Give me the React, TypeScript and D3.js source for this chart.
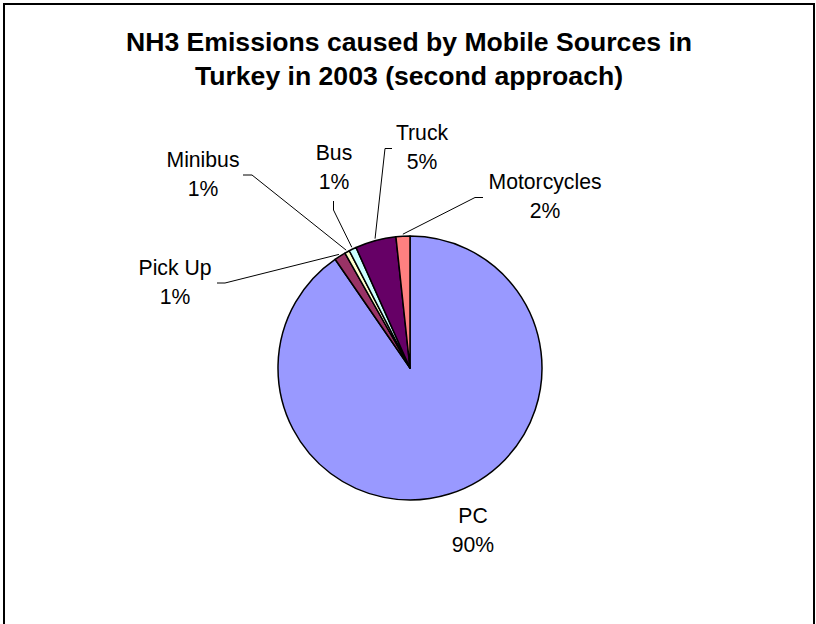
import React from "react";
import * as d3 from "d3";

// NH3 emission shares by vehicle type (percent of total)
const categories = ["PC", "Pick Up", "Minibus", "Bus", "Truck", "Motorcycles"];
const shares = [90.4, 1.4, 0.6, 0.9, 5.0, 1.7];
const colors = ["#9999FF", "#993366", "#FFFFCC", "#CCFFFF", "#660066", "#FF8080"];
const titleLines = [
  "NH3 Emissions caused by Mobile Sources in",
  "Turkey in 2003 (second approach)",
];

// Label layout: text centre x, first baseline y, and the elbow of each leader line
type LabelLayout = { x: number; y: number; leader?: [number, number][] };
const labelLayout: Record<string, LabelLayout> = {
  PC: { x: 473, y: 523 },
  "Pick Up": { x: 175, y: 275, leader: [[217, 283], [225, 283]] },
  Minibus: { x: 203, y: 167, leader: [[243, 175], [252, 175]] },
  Bus: { x: 334, y: 160, leader: [[333.5, 201], [333.5, 210]] },
  Truck: { x: 422, y: 140, leader: [[392, 148.5], [385, 148.5]] },
  Motorcycles: { x: 545, y: 189, leader: [[483, 197.5], [475, 197.5]] },
};

const W = 816;
const H = 624;
const cx = 410;
const cy = 368;
const R = 132;
const font = "'Liberation Sans', Arial, Helvetica, sans-serif";

export default function App() {
  const data = categories.map((name, i) => ({ name, value: shares[i], color: colors[i] }));
  const total = d3.sum(shares);
  const pie = d3.pie<any>().value((d) => d.value).sort(null).startAngle(0).endAngle(2 * Math.PI);
  const arcs = pie(data);
  const arc = d3.arc<any>().innerRadius(0).outerRadius(R);
  const fmt = d3.format(".0%");
  const line = d3.line();

  return (
    <svg
      width={W}
      height={H}
      style={{ position: "absolute", left: 0, top: 0, background: "#fff" }}
      fontFamily={font}
    >
      <rect x={4} y={4} width={810} height={700} fill="#fff" stroke="#000" strokeWidth={2} />
      {titleLines.map((t, i) => (
        <text
          key={i}
          x={409}
          y={51 + i * 34}
          textAnchor="middle"
          fontSize={26.6}
          fontWeight="bold"
          fill="#000"
        >
          {t}
        </text>
      ))}
      <g transform={`translate(${cx},${cy})`}>
        {arcs.map((a, i) => (
          <path key={i} d={arc(a) as string} fill={a.data.color} stroke="#000" strokeWidth={1.5} strokeLinejoin="round" />
        ))}
      </g>
      {arcs.map((a, i) => {
        const lay = labelLayout[a.data.name];
        const mid = (a.startAngle + a.endAngle) / 2;
        const rim: [number, number] = [cx + (R + 2) * Math.sin(mid), cy - (R + 2) * Math.cos(mid)];
        return (
          <g key={i}>
            {lay.leader && (
              <path d={line([...lay.leader, rim]) as string} fill="none" stroke="#000" strokeWidth={1} />
            )}
            <text x={lay.x} y={lay.y} textAnchor="middle" fontSize={21.2} fill="#000">
              {a.data.name}
            </text>
            <text x={lay.x} y={lay.y + 29} textAnchor="middle" fontSize={21.2} fill="#000">
              {fmt(a.data.value / total)}
            </text>
          </g>
        );
      })}
    </svg>
  );
}
